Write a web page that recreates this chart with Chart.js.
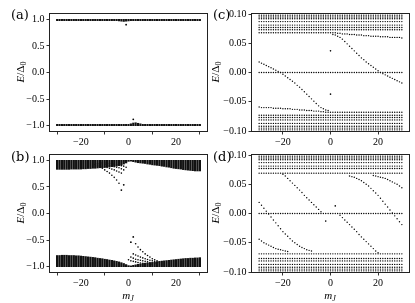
<!DOCTYPE html>
<html><head><meta charset="utf-8">
<script src="https://cdn.jsdelivr.net/npm/chart.js@4.4.0/dist/chart.umd.min.js"></script>
<style>
html,body{margin:0;padding:0;background:#fff}
body{width:415px;height:303px;overflow:hidden;position:relative;font-family:'Liberation Serif','DejaVu Serif',serif;color:#000}
canvas{position:absolute}
.pl{position:absolute;font-family:'DejaVu Serif',serif;font-size:13px;line-height:13px;white-space:nowrap}
.ax{position:absolute;font-size:11px;line-height:11px;white-space:nowrap;transform:translate(-50%,-50%)}
.ax.rot{transform:translate(-50%,-50%) rotate(-90deg)}
sub{font-size:8px;vertical-align:-2px;line-height:0}
</style></head><body>
<canvas id="ca" width="210" height="150" style="left:0;top:0"></canvas>
<canvas id="cb" width="210" height="150" style="left:0;top:140px"></canvas>
<canvas id="cc" width="210" height="150" style="left:205px;top:0"></canvas>
<canvas id="cd" width="210" height="150" style="left:205px;top:140px"></canvas>
<div class="pl" style="left:11px;top:8px">(a)</div>
<div class="pl" style="left:11px;top:150px">(b)</div>
<div class="pl" style="left:213px;top:8px">(c)</div>
<div class="pl" style="left:213px;top:150px">(d)</div>
<div class="ax rot" style="left:20px;top:72px"><i>E</i>/Δ<sub>0</sub></div>
<div class="ax rot" style="left:20px;top:213px"><i>E</i>/Δ<sub>0</sub></div>
<div class="ax rot" style="left:215px;top:72px"><i>E</i>/Δ<sub>0</sub></div>
<div class="ax rot" style="left:215px;top:213px"><i>E</i>/Δ<sub>0</sub></div>
<div class="ax" style="left:128px;top:295px"><i>m<sub>J</sub></i></div>
<div class="ax" style="left:330px;top:295px"><i>m<sub>J</sub></i></div>
<script>
// ---------- data ----------
const mJ = [-30,-29,-28,-27,-26,-25,-24,-23,-22,-21,-20,-19,-18,-17,-16,-15,-14,-13,-12,-11,-10,-9,-8,-7,-6,-5,-4,-3,-2,-1,0,1,2,3,4,5,6,7,8,9,10,11,12,13,14,15,16,17,18,19,20,21,22,23,24,25,26,27,28,29,30];
const xTicks = [-20, 0, 20];
const yTicksWide = [-1.0, -0.5, 0.0, 0.5, 1.0];
const yTicksZoom = [-0.10, -0.05, 0.00, 0.05, 0.10];

// (a) full spectrum: thin bands at the gap edges
const aUpperTop = 1.0;
const aUpperLow = [0.975,0.975,0.975,0.975,0.975,0.975,0.975,0.975,0.975,0.975,0.975,0.975,0.975,0.975,0.975,0.975,0.975,0.975,0.975,0.975,0.975,0.975,0.975,0.975,0.975,0.975,0.97,0.965,0.96,0.965,0.97,0.975,0.975,0.975,0.975,0.975,0.975,0.975,0.975,0.975,0.975,0.975,0.975,0.975,0.975,0.975,0.975,0.975,0.975,0.975,0.975,0.975,0.975,0.975,0.975,0.975,0.975,0.975,0.975,0.975,0.975];
const aLowerBottom = -1.0;
const aLowerHigh = [-0.975,-0.975,-0.975,-0.975,-0.975,-0.975,-0.975,-0.975,-0.975,-0.975,-0.975,-0.975,-0.975,-0.975,-0.975,-0.975,-0.975,-0.975,-0.975,-0.975,-0.975,-0.975,-0.975,-0.975,-0.975,-0.975,-0.975,-0.975,-0.975,-0.975,-0.975,-0.965,-0.95,-0.945,-0.955,-0.965,-0.975,-0.975,-0.975,-0.975,-0.975,-0.975,-0.975,-0.975,-0.975,-0.975,-0.975,-0.975,-0.975,-0.975,-0.975,-0.975,-0.975,-0.975,-0.975,-0.975,-0.975,-0.975,-0.975,-0.975,-0.975];
const aIsolatedM = [-1, 2];
const aIsolatedE = [0.9, -0.88];

// (b) full spectrum with wide bands
const bUpperTop = 1.0;
const bUpperLow = [0.83,0.83,0.83,0.83,0.83,0.83,0.835,0.835,0.835,0.835,0.835,0.84,0.84,0.845,0.845,0.85,0.85,0.855,0.86,0.86,0.865,0.87,0.875,0.88,0.885,0.89,0.9,0.91,0.93,0.95,0.98,0.985,0.975,0.965,0.955,0.95,0.945,0.94,0.93,0.925,0.915,0.91,0.905,0.9,0.89,0.885,0.875,0.87,0.86,0.85,0.845,0.84,0.835,0.825,0.82,0.815,0.81,0.805,0.8,0.8,0.8];
const bLowerBottom = -1.0;
const bLowerHigh = [-0.79,-0.79,-0.785,-0.785,-0.785,-0.79,-0.79,-0.79,-0.795,-0.795,-0.8,-0.805,-0.81,-0.815,-0.82,-0.825,-0.83,-0.84,-0.845,-0.85,-0.86,-0.865,-0.875,-0.88,-0.89,-0.9,-0.91,-0.925,-0.94,-0.96,-0.98,-0.985,-0.975,-0.965,-0.955,-0.95,-0.94,-0.935,-0.93,-0.925,-0.92,-0.915,-0.91,-0.9,-0.895,-0.89,-0.885,-0.88,-0.875,-0.87,-0.865,-0.86,-0.855,-0.85,-0.845,-0.845,-0.84,-0.84,-0.835,-0.835,-0.83];
const bFanUp1 = {m0:-13, E:[0.89,0.87,0.85,0.82,0.79,0.76,0.72,0.68,0.63,0.57]};
const bFanUp2 = {m0:-14, E:[0.92,0.91,0.90,0.89,0.88,0.865,0.85,0.835,0.82,0.80,0.78,0.76]};
const bFanUp3 = {m0:-13, E:[0.94,0.935,0.93,0.92,0.91,0.90,0.89,0.88,0.87,0.86,0.84,0.82]};
const bFanUp4 = {m0:-11, E:[0.955,0.95,0.945,0.94,0.935,0.93,0.92,0.91,0.90,0.89,0.87]};
const bFanLow1 = {m0:3, E:[-0.57,-0.63,-0.68,-0.72,-0.76,-0.79,-0.82,-0.85,-0.87,-0.89]};
const bFanLow2 = {m0:2, E:[-0.76,-0.78,-0.80,-0.82,-0.835,-0.85,-0.865,-0.88,-0.89,-0.90,-0.91,-0.92]};
const bFanLow3 = {m0:1, E:[-0.82,-0.84,-0.86,-0.87,-0.88,-0.89,-0.90,-0.91,-0.92,-0.93,-0.935,-0.94]};
const bFanLow4 = {m0:0, E:[-0.87,-0.89,-0.90,-0.91,-0.92,-0.93,-0.935,-0.94,-0.945,-0.95,-0.955]};
const bIsolatedM = [-3, -2, 2, 1];
const bIsolatedE = [0.44, 0.54, -0.44, -0.54];

// (c) zoom of (a) near zero energy
const cRowsUp = [0.098, 0.095, 0.092, 0.087, 0.081, 0.077, 0.073];
const cRowsLow = [-0.098, -0.095, -0.092, -0.087, -0.081, -0.077, -0.073];
const cEdgeUp = [0.068,0.068,0.068,0.068,0.068,0.068,0.068,0.068,0.068,0.068,0.068,0.068,0.068,0.068,0.068,0.068,0.068,0.068,0.068,0.068,0.068,0.068,0.068,0.068,0.068,0.068,0.068,0.068,0.068,0.068,0.068,0.068,0.068,0.067,0.067,0.066,0.066,0.066,0.065,0.065,0.065,0.064,0.064,0.064,0.063,0.063,0.063,0.062,0.062,0.062,0.062,0.061,0.061,0.061,0.061,0.06,0.06,0.06,0.06,0.06,0.059];
const cEdgeLow = [-0.059,-0.06,-0.06,-0.06,-0.06,-0.06,-0.061,-0.061,-0.061,-0.061,-0.062,-0.062,-0.062,-0.062,-0.063,-0.063,-0.063,-0.064,-0.064,-0.064,-0.065,-0.065,-0.065,-0.066,-0.066,-0.066,-0.067,-0.067,-0.068,-0.068,-0.068,-0.068,-0.068,-0.068,-0.068,-0.068,-0.068,-0.068,-0.068,-0.068,-0.068,-0.068,-0.068,-0.068,-0.068,-0.068,-0.068,-0.068,-0.068,-0.068,-0.068,-0.068,-0.068,-0.068,-0.068,-0.068,-0.068,-0.068,-0.068,-0.068,-0.068];
const cZeroLevel = 0.0;
const cLineA = {m0:-30, E:[0.018,0.016,0.014,0.012,0.010,0.008,0.006,0.004,0.002,0.000,-0.003,-0.006,-0.009,-0.012,-0.015,-0.018,-0.022,-0.025,-0.029,-0.033,-0.037,-0.041,-0.045,-0.049,-0.053,-0.057,-0.060,-0.062,-0.064,-0.065]};
const cLineB = {m0:1, E:[0.065,0.064,0.062,0.060,0.057,0.053,0.049,0.045,0.041,0.037,0.033,0.029,0.025,0.022,0.018,0.015,0.012,0.009,0.006,0.003,0.000,-0.002,-0.004,-0.006,-0.008,-0.010,-0.012,-0.014,-0.016,-0.018]};
const cIsolatedM = [0, 0];
const cIsolatedE = [0.037, -0.037];

// (d) zoom of (b) near zero energy
const dRowsUp = [0.098, 0.095, 0.092, 0.087, 0.081, 0.077, 0.069];
const dRowsLow = [-0.098, -0.095, -0.092, -0.087, -0.081, -0.077, -0.069];
const dZeroLevel = 0.0;
const dLine1 = {m0:-20, E:[0.067,0.064,0.06,0.056,0.052,0.048,0.044,0.040,0.036,0.031,0.027,0.023,0.019,0.015,0.011,0.007,0.003]};
const dLine1b = {m0:4, E:[-0.003,-0.007,-0.011,-0.015,-0.019,-0.023,-0.027,-0.031,-0.036,-0.040,-0.044,-0.048,-0.052,-0.056,-0.06,-0.064,-0.067]};
const dLine2 = {m0:-30, E:[0.019,0.014,0.009,0.004,-0.001,-0.006,-0.011,-0.016,-0.021,-0.026,-0.031,-0.035,-0.039,-0.043,-0.047,-0.05,-0.053,-0.056,-0.058,-0.06,-0.062,-0.063,-0.064]};
const dLine2b = {m0:8, E:[0.064,0.063,0.062,0.06,0.058,0.056,0.053,0.05,0.047,0.043,0.039,0.035,0.031,0.026,0.021,0.016,0.011,0.006,0.001,-0.004,-0.009,-0.014,-0.019]};
const dLine3 = {m0:-30, E:[-0.044,-0.047,-0.05,-0.052,-0.054,-0.056,-0.058,-0.06,-0.061,-0.062,-0.063,-0.064,-0.065]};
const dLine3b = {m0:18, E:[0.065,0.064,0.063,0.062,0.061,0.06,0.058,0.056,0.054,0.052,0.05,0.047,0.044]};
const dIsolatedM = [2, -2];
const dIsolatedE = [0.013, -0.013];

// ---------- helpers ----------
const FONT = {family:"'Liberation Serif','DejaVu Serif',serif", size:10};
const minus = s => s.replace('-', '\u2212');
const fmt1 = v => minus(Number(v).toFixed(1));
const fmt2 = v => minus(Number(v).toFixed(2));
const fmtInt = v => minus(String(Math.round(v)));

const seriesPts = (arr) => mJ.map((m,i)=>({x:m, y:arr[i]}));
const levelPts = (E) => mJ.map(m=>({x:m, y:E}));
const linePts = (ln) => ln.E.map((E,i)=>({x:ln.m0+i, y:E}));
const pairPts = (ms, es) => ms.map((m,i)=>({x:m, y:es[i]}));
const bandBars = (lo, hi) => mJ.map((m,i)=>({x:m, y:[Array.isArray(lo)?lo[i]:lo, Array.isArray(hi)?hi[i]:hi]}));

const dots = (data, r) => ({type:'scatter', data, pointRadius:r||0.7, pointHoverRadius:0, borderWidth:0, backgroundColor:'#000', pointBackgroundColor:'#000'});
const bars = (data, w, col) => ({type:'bar', data, backgroundColor:col||'#000', borderWidth:0, barThickness:w||1.6, grouped:false});

const frame = {id:'frame', afterDraw(c){
  const a=c.chartArea, ctx=c.ctx; ctx.save(); ctx.strokeStyle='#222'; ctx.lineWidth=1;
  ctx.strokeRect(Math.round(a.left)-0.5, Math.round(a.top)-0.5, Math.round(a.right-a.left)+1, Math.round(a.bottom-a.top)+1); ctx.restore();}};

function axisGrid(){return {display:true, drawOnChartArea:false, drawTicks:true, tickLength:3.5, color:'#000', lineWidth:0.8};}

function makeChart(id, datasets, yMin, yMax, yTicks, yFmt, yWidth, pad, xH){
  return new Chart(document.getElementById(id), {
    type:'scatter',
    data:{datasets},
    plugins:[frame],
    options:{
      responsive:false, animation:false, devicePixelRatio:1,
      layout:{padding:pad},
      plugins:{legend:{display:false}, tooltip:{enabled:false}},
      events:[],
      scales:{
        x:{type:'linear', min:-33, max:33, offset:false,
          afterBuildTicks:s=>{s.ticks = xTicks.map(v=>({value:v}));},
          afterFit:s=>{s.height = xH;},
          grid:axisGrid(), border:{display:false},
          ticks:{font:FONT, color:'#000', padding:2, maxRotation:0, autoSkip:false, callback:v=>fmtInt(v)}},
        y:{type:'linear', min:yMin, max:yMax,
          afterBuildTicks:s=>{s.ticks = yTicks.map(v=>({value:v}));},
          afterFit:s=>{s.width = yWidth;},
          grid:axisGrid(), border:{display:false},
          ticks:{font:FONT, color:'#000', padding:2, autoSkip:false, callback:v=>yFmt(v)}}
      }
    }
  });
}

// (a)
makeChart('ca', [
  bars(bandBars(aUpperLow, aUpperTop), 1.5, '#111'),
  bars(bandBars(aLowerBottom, aLowerHigh), 1.5, '#111'),
  dots(pairPts(aIsolatedM, aIsolatedE), 0.9)
], -1.1, 1.1, yTicksWide, fmt1, 50, {left:0, right:3, top:14, bottom:0}, 19);

// (b)
makeChart('cb', [
  bars(bandBars(bUpperLow, bUpperTop), 1.6, '#111'),
  bars(bandBars(bLowerBottom, bLowerHigh), 1.6, '#111'),
  dots(linePts(bFanUp1), 0.8), dots(linePts(bFanUp2), 0.8), dots(linePts(bFanUp3), 0.8), dots(linePts(bFanUp4), 0.8),
  dots(linePts(bFanLow1), 0.8), dots(linePts(bFanLow2), 0.8), dots(linePts(bFanLow3), 0.8), dots(linePts(bFanLow4), 0.8),
  dots(pairPts(bIsolatedM, bIsolatedE), 0.9)
], -1.1, 1.1, yTicksWide, fmt1, 50, {left:0, right:3, top:15, bottom:0}, 18);

// (c)
const cSets = [];
cRowsUp.forEach(E=>cSets.push(dots(levelPts(E))));
cRowsLow.forEach(E=>cSets.push(dots(levelPts(E))));
cSets.push(dots(seriesPts(cEdgeUp)), dots(seriesPts(cEdgeLow)), dots(levelPts(cZeroLevel)),
  dots(linePts(cLineA)), dots(linePts(cLineB)), dots(pairPts(cIsolatedM, cIsolatedE), 0.8));
makeChart('cc', cSets, -0.1, 0.1, yTicksZoom, fmt2, 47, {left:0, right:6, top:14, bottom:0}, 19);

// (d)
const dSets = [];
dRowsUp.forEach(E=>dSets.push(dots(levelPts(E))));
dRowsLow.forEach(E=>dSets.push(dots(levelPts(E))));
dSets.push(dots(levelPts(dZeroLevel)),
  dots(linePts(dLine1)), dots(linePts(dLine1b)), dots(linePts(dLine2)), dots(linePts(dLine2b)),
  dots(linePts(dLine3)), dots(linePts(dLine3b)), dots(pairPts(dIsolatedM, dIsolatedE), 0.8));
makeChart('cd', dSets, -0.1, 0.1, yTicksZoom, fmt2, 47, {left:0, right:6, top:15, bottom:0}, 18);
</script>
</body></html>
